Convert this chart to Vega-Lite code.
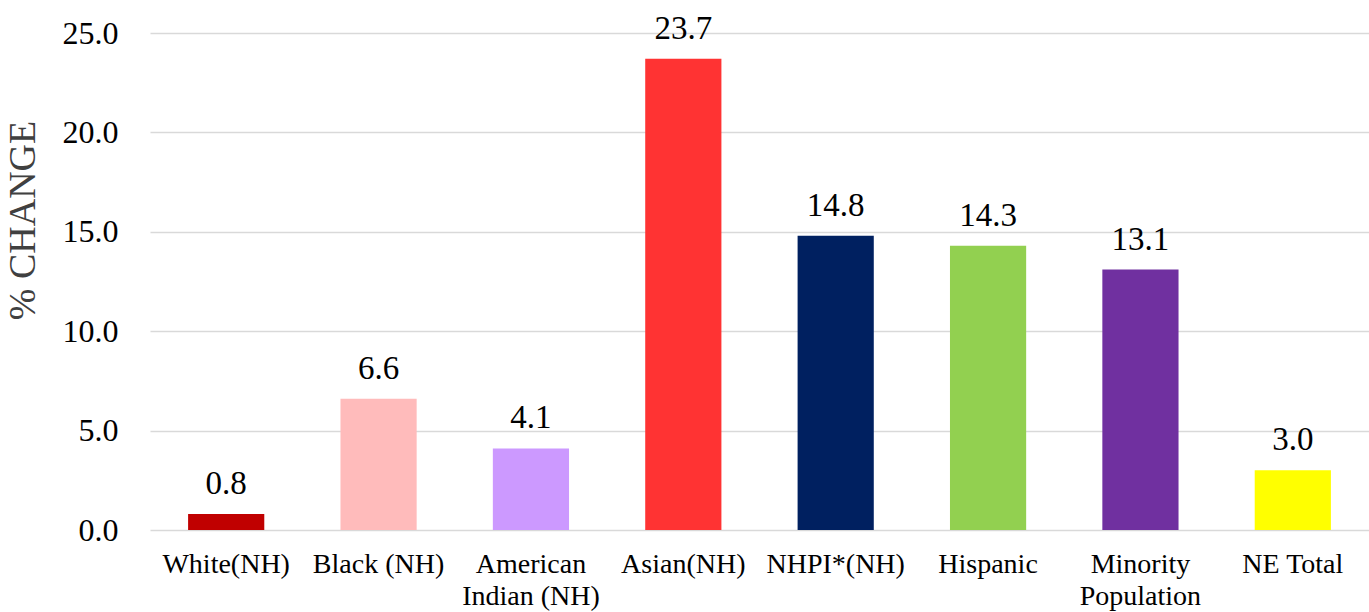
{
  "$schema": "https://vega.github.io/schema/vega-lite/v6.json",
  "width": 1219,
  "height": 497,
  "autosize": {"type": "none"},
  "padding": {"left": 150, "top": 33, "right": 0, "bottom": 82},
  "background": "white",
  "config": {
    "view": {"stroke": null},
    "font": "Liberation Serif"
  },
  "data": {
    "values": [
      {"group": "White(NH)", "change": 0.8, "color": "#C00000"},
      {"group": "Black (NH)", "change": 6.6, "color": "#FFBBBB"},
      {"group": "American Indian (NH)", "change": 4.1, "color": "#CC99FF"},
      {"group": "Asian(NH)", "change": 23.7, "color": "#FF3333"},
      {"group": "NHPI*(NH)", "change": 14.8, "color": "#002060"},
      {"group": "Hispanic", "change": 14.3, "color": "#92D050"},
      {"group": "Minority Population", "change": 13.1, "color": "#7030A0"},
      {"group": "NE Total", "change": 3.0, "color": "#FFFF00"}
    ]
  },
  "encoding": {
    "x": {
      "field": "group",
      "type": "nominal",
      "sort": null,
      "scale": {"paddingInner": 0.5, "paddingOuter": 0.25},
      "axis": {
        "title": null,
        "labelAngle": 0,
        "labelFont": "Liberation Serif",
        "labelFontSize": 28,
        "labelColor": "#000000",
        "labelPadding": 20,
        "labelLineHeight": 32,
        "labelBaseline": "top",
        "ticks": false,
        "domain": false,
        "labelExpr": "datum.label == 'American Indian (NH)' ? ['American', 'Indian (NH)'] : datum.label == 'Minority Population' ? ['Minority', 'Population'] : datum.label"
      }
    },
    "y": {
      "field": "change",
      "type": "quantitative",
      "scale": {"domain": [0, 25], "nice": false},
      "axis": {
        "title": "% CHANGE",
        "titleFont": "Liberation Serif",
        "titleFontSize": 38,
        "titleFontWeight": "normal",
        "titleColor": "#404040",
        "titleX": -127,
        "titleY": 187,
        "titleAngle": -90,
        "titleAlign": "center",
        "titleBaseline": "middle",
        "values": [0, 5, 10, 15, 20, 25],
        "format": ".1f",
        "labelFont": "Liberation Serif",
        "labelFontSize": 32,
        "labelColor": "#000000",
        "labelPadding": 32,
        "ticks": false,
        "domain": false,
        "grid": true,
        "gridColor": "#d9d9d9",
        "gridWidth": 1.5
      }
    }
  },
  "layer": [
    {
      "mark": {"type": "bar"},
      "encoding": {
        "color": {"field": "color", "type": "nominal", "scale": null}
      }
    },
    {
      "mark": {
        "type": "text",
        "baseline": "alphabetic",
        "dy": -20,
        "fontSize": 33,
        "font": "Liberation Serif",
        "color": "#000000"
      },
      "encoding": {
        "text": {"field": "change", "type": "quantitative", "format": ".1f"}
      }
    }
  ]
}
